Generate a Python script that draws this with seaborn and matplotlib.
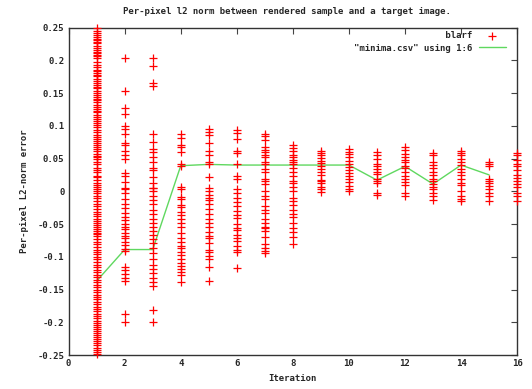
import numpy as np
import pandas as pd
import matplotlib
matplotlib.use("Agg")
import matplotlib.pyplot as plt
from matplotlib.ticker import FuncFormatter, MultipleLocator
import seaborn as sns

# per-pixel error samples for each iteration
err_it1 = [0.249, 0.245, 0.241, 0.238, 0.236, 0.233, 0.231, 0.228, 0.226, 0.222, 0.219, 0.216,
           0.213, 0.211, 0.208, 0.206, 0.203, 0.198, 0.193, 0.189, 0.185, 0.183, 0.181, 0.178,
           0.176, 0.172, 0.168, 0.165, 0.162, 0.159, 0.157, 0.153, 0.150, 0.147, 0.144, 0.141,
           0.139, 0.136, 0.132, 0.129, 0.126, 0.123, 0.121, 0.117, 0.113, 0.110, 0.107, 0.104,
           0.101, 0.098, 0.094, 0.090, 0.086, 0.083, 0.080, 0.077, 0.074, 0.071, 0.068, 0.065,
           0.061, 0.057, 0.054, 0.052, 0.049, 0.045, 0.041, 0.036, 0.033, 0.029, 0.024, 0.021,
           0.017, 0.013, 0.009, 0.006, 0.003, 0.000, -0.003, -0.007, -0.011, -0.015, -0.019,
           -0.023, -0.027, -0.031, -0.035, -0.038, -0.042, -0.045, -0.048, -0.051, -0.054,
           -0.057, -0.060, -0.063, -0.066, -0.069, -0.073, -0.077, -0.081, -0.085, -0.089,
           -0.092, -0.096, -0.100, -0.104, -0.108, -0.112, -0.116, -0.120, -0.124, -0.128,
           -0.131, -0.135, -0.139, -0.143, -0.146, -0.150, -0.154, -0.158, -0.161, -0.165,
           -0.169, -0.172, -0.176, -0.180, -0.183, -0.187, -0.191, -0.194, -0.198, -0.201,
           -0.204, -0.207, -0.210, -0.213, -0.216, -0.219, -0.222, -0.225, -0.228, -0.231,
           -0.235, -0.239, -0.242, -0.246, -0.249]
err_it2 = [0.203, 0.153, 0.1275, 0.118, 0.100, 0.095, 0.087, 0.073, 0.071, 0.061, 0.055, 0.049,
           0.0275, 0.0235, 0.014, 0.005, 0.004, -0.0025, -0.012, -0.019, -0.025, -0.033, -0.040,
           -0.044, -0.050, -0.054, -0.057, -0.063, -0.068, -0.072, -0.077, -0.082, -0.088,
           -0.091, -0.116, -0.120, -0.126, -0.132, -0.137, -0.187, -0.199]
err_it3 = [0.203, 0.191, 0.166, 0.161, 0.087, 0.0745, 0.065, 0.060, 0.052, 0.044, 0.036, 0.033,
           0.0215, 0.012, 0.005, 0.0057, 0.000, -0.0076, -0.014, -0.020, -0.028, -0.035, -0.042,
           -0.048, -0.054, -0.061, -0.067, -0.073, -0.079, -0.086, -0.095, -0.104, -0.112,
           -0.118, -0.125, -0.132, -0.139, -0.145, -0.182, -0.199]
err_it4 = [0.087, 0.082, 0.070, 0.068, 0.060, 0.042, 0.039, 0.007, 0.003, -0.009, -0.012, -0.021,
           -0.024, -0.031, -0.037, -0.043, -0.049, -0.055, -0.063, -0.071, -0.078, -0.083,
           -0.086, -0.092, -0.098, -0.104, -0.109, -0.114, -0.119, -0.124, -0.128, -0.138]
err_it5 = [0.095, 0.090, 0.086, 0.073, 0.062, 0.055, 0.045, 0.041, 0.0225, 0.005, 0.001, -0.006,
           -0.010, -0.014, -0.020, -0.027, -0.035, -0.042, -0.048, -0.055, -0.062, -0.069,
           -0.071, -0.079, -0.090, -0.092, -0.099, -0.104, -0.116, -0.137]
err_it6 = [0.094, 0.089, 0.080, 0.061, 0.058, 0.042, 0.0235, 0.018, 0.004, -0.002, -0.010, -0.016,
           -0.022, -0.030, -0.036, -0.041, -0.050, -0.056, -0.059, -0.067, -0.072, -0.076,
           -0.083, -0.089, -0.093, -0.117]
err_it7 = [0.088, 0.084, 0.079, 0.068, 0.063, 0.060, 0.056, 0.052, 0.044, 0.041, 0.034, 0.030,
           0.019, 0.016, 0.011, 0.001, -0.007, -0.012, -0.022, -0.028, -0.033, -0.043, -0.049,
           -0.054, -0.056, -0.061, -0.070, -0.080, -0.087, -0.091, -0.095]
err_it8 = [0.071, 0.066, 0.061, 0.056, 0.053, 0.047, 0.044, 0.041, 0.035, 0.029, 0.0235, 0.016,
           0.013, 0.006, 0.000, -0.010, -0.015, -0.021, -0.028, -0.035, -0.040, -0.049, -0.056,
           -0.062, -0.070, -0.080]
err_it9 = [0.062, 0.058, 0.055, 0.051, 0.046, 0.043, 0.038, 0.034, 0.030, 0.0245, 0.0175, 0.015,
           0.012, 0.007, 0.003, -0.001]
err_it10 = [0.064, 0.060, 0.057, 0.053, 0.046, 0.042, 0.037, 0.032, 0.0275, 0.0235, 0.018, 0.014,
            0.008, 0.004, 0.001]
err_it11 = [0.060, 0.056, 0.050, 0.042, 0.039, 0.034, 0.030, 0.0265, 0.018, 0.016, 0.012, -0.002,
            -0.006]
err_it12 = [0.068, 0.063, 0.057, 0.052, 0.048, 0.044, 0.039, 0.035, 0.029, 0.0235, 0.018, 0.014,
            0.010, -0.002, -0.007]
err_it13 = [0.059, 0.056, 0.044, 0.040, 0.035, 0.030, 0.0255, 0.019, 0.015, 0.011, 0.007, 0.003,
            -0.002, -0.007, -0.014]
err_it14 = [0.062, 0.059, 0.055, 0.050, 0.044, 0.040, 0.034, 0.030, 0.0245, 0.018, 0.013, 0.009,
            0.001, -0.007, -0.012, -0.015]
err_it15 = [0.045, 0.042, 0.038, 0.019, 0.016, 0.012, 0.008, 0.003, -0.002, -0.007, -0.015]
err_it16 = [0.059, 0.055, 0.047, 0.041, 0.038, 0.032, 0.0245, 0.0205, 0.016, 0.011, 0.006, -0.002,
            -0.008, -0.015]

# minima.csv column 1 vs column 6
minima_iter = [1, 2, 3, 4, 5, 6, 7, 8, 9, 10, 11, 12, 13, 14, 15]
minima_err = [-0.137, -0.089, -0.089, 0.039, 0.041, 0.040, 0.040, 0.040, 0.040, 0.040,
              0.017, 0.038, 0.011, 0.040, 0.025]

samples = [err_it1, err_it2, err_it3, err_it4, err_it5, err_it6, err_it7, err_it8,
           err_it9, err_it10, err_it11, err_it12, err_it13, err_it14, err_it15, err_it16]
scatter_df = pd.DataFrame({
    "iteration": np.concatenate([[i + 1] * len(v) for i, v in enumerate(samples)]),
    "error": np.concatenate(samples),
})
minima_df = pd.DataFrame({"iteration": minima_iter, "error": minima_err})

sns.set_style("white")
plt.rcParams["font.family"] = ["DejaVu Sans Mono"]
plt.rcParams["font.weight"] = "bold"
FS = 6.5

fig = plt.figure(figsize=(5.32, 3.89), dpi=100)
ax = fig.add_axes([0.129, 0.0874, 0.843, 0.8419])

sns.scatterplot(data=scatter_df, x="iteration", y="error", marker="+", color="#ff0000",
                s=30, linewidth=0.9, ax=ax, label="blarf", clip_on=False, zorder=3)
sns.lineplot(data=minima_df, x="iteration", y="error", color="#5fd85f", linewidth=1.0,
             ax=ax, label='"minima.csv" using 1:6', zorder=2)

ax.set_xlim(0, 16)
ax.set_ylim(-0.25, 0.25)
ax.xaxis.set_major_locator(MultipleLocator(2))
ax.yaxis.set_major_locator(MultipleLocator(0.05))
ax.yaxis.set_major_formatter(FuncFormatter(lambda v, p: "%g" % round(v, 4)))
ax.tick_params(direction="in", length=4, width=0.8, top=True, right=True,
               labelsize=FS, color="#444444", pad=3)
for sp in ax.spines.values():
    sp.set_color("#333333")
    sp.set_linewidth(1.0)

ax.set_xlabel("Iteration", fontsize=FS, fontweight="bold", labelpad=4)
ax.set_ylabel("Per-pixel L2-norm error", fontsize=FS, fontweight="bold", labelpad=6)
fig.text(286.5 / 532, 1 - 12 / 389, "Per-pixel l2 norm between rendered sample and a target image.",
         ha="center", va="center", fontsize=FS, fontweight="bold")

handles, labels = ax.get_legend_handles_labels()
labels = ["blarf".rjust(22), labels[1]]
ax.legend(handles, labels, loc="upper right", bbox_to_anchor=(0.975, 0.988), frameon=False,
          markerfirst=False, fontsize=FS, handlelength=3.0, handletextpad=0.7,
          labelspacing=0.35, borderpad=0, borderaxespad=0)

fig.savefig("out.png", dpi=100)
